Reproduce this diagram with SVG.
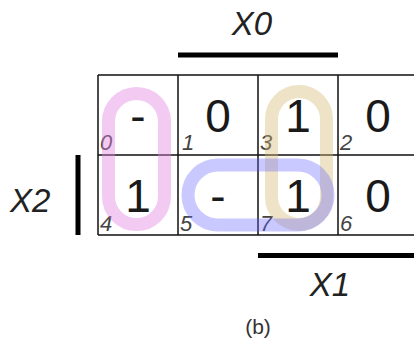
<svg xmlns="http://www.w3.org/2000/svg" width="414" height="343" viewBox="0 0 414 343">
<style>
.grid{fill:none;stroke:#111;stroke-width:1.5}
.bar{fill:#000}
.lbl{font-family:"Liberation Sans",Arial,sans-serif;font-style:italic;font-size:33px;fill:#222}
.val{font-family:"Liberation Sans",Arial,sans-serif;font-size:46px;fill:#1a1a1a;text-anchor:middle}
.idx{font-family:"Liberation Sans",Arial,sans-serif;font-style:italic;font-size:22px;fill:#444}
.cap{font-family:"Liberation Sans",Arial,sans-serif;font-size:21px;fill:#333;text-anchor:middle}
.loop{fill:none;stroke-width:13}
</style>
<rect x="0" y="0" width="414" height="343" fill="#fff"/>
<g id="grid">
<path class="grid" d="M98,75 H418 M98,155 H418 M98,235 H418 M98,75 V235 M178,75 V235 M258,75 V235 M338,75 V235"/>
</g>
<g id="labels">
<text class="lbl" x="252" y="35" text-anchor="middle">X0</text>
<rect class="bar" x="178" y="52.5" width="160" height="5"/>
<text class="lbl" x="10" y="212">X2</text>
<rect class="bar" x="75.5" y="155" width="5" height="80"/>
<rect class="bar" x="258" y="253" width="160" height="5"/>
<text class="lbl" x="330" y="296" text-anchor="middle">X1</text>
<text class="cap" x="258" y="334">(b)</text>
</g>
<g id="indices">
<text class="idx" x="100" y="150">0</text>
<text class="idx" x="182" y="150">1</text>
<text class="idx" x="260" y="150">3</text>
<text class="idx" x="340" y="150">2</text>
<text class="idx" x="100" y="231">4</text>
<text class="idx" x="180" y="231">5</text>
<text class="idx" x="260" y="231">7</text>
<text class="idx" x="340" y="231">6</text>
</g>
<g id="loops">
<rect id="loop-pink" class="loop" x="108.5" y="93.5" width="56" height="131" rx="28" stroke="#e080e0" stroke-opacity="0.42"/>
<rect id="loop-tan" class="loop" x="271.5" y="91.5" width="55" height="133" rx="27.5" stroke="#d4b870" stroke-opacity="0.4"/>
<rect id="loop-blue" class="loop" x="188" y="165" width="140" height="60" rx="30" stroke="#6464ff" stroke-opacity="0.35"/>
</g>
<g id="values">
<text class="val" x="138" y="132">-</text>
<text class="val" x="218" y="132">0</text>
<text class="val" x="298" y="132">1</text>
<text class="val" x="378" y="132">0</text>
<text class="val" x="138" y="212">1</text>
<text class="val" x="218" y="212">-</text>
<text class="val" x="298" y="212">1</text>
<text class="val" x="378" y="212">0</text>
</g>
</svg>
